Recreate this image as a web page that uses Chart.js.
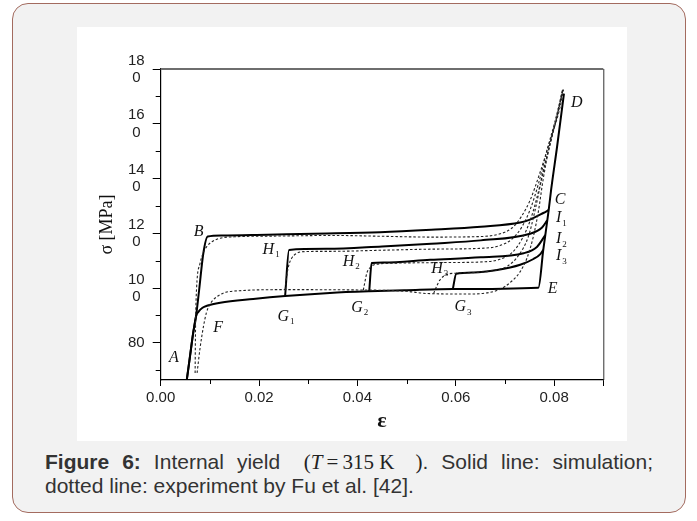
<!DOCTYPE html>
<html>
<head>
<meta charset="utf-8">
<script src="https://cdn.jsdelivr.net/npm/chart.js@4/dist/chart.umd.min.js"></script>
<style>
  html, body { margin: 0; padding: 0; background: #ffffff; }
  body { width: 697px; height: 521px; position: relative; overflow: hidden; }
  #box {
    position: absolute; left: 12px; top: 3px; width: 672px; height: 508px;
    background: #f2f2f2; border: 1.5px solid #a36b5f; border-radius: 16px;
  }
  #panel { position: absolute; left: 77px; top: 27px; width: 550px; height: 414px; background: #ffffff; }
  #caption {
    position: absolute; left: 45px; top: 450px; width: 608px;
    font-family: "Liberation Sans", Arial, sans-serif; font-size: 21px; line-height: 24px; color: #333;
  }
  #caption .l1 { text-align: justify; text-align-last: justify; white-space: nowrap; }
  #caption b { font-weight: bold; }
  #caption .m { display: inline-block; font-family: "Liberation Serif", "Times New Roman", serif; font-size: 21px; color: #222; }
</style>
</head>
<body>
<div id="box"></div>
<div id="panel"><canvas id="c"></canvas></div>
<div id="caption">
  <div class="l1"><b>Figure 6:</b> Internal yield <span class="m">&nbsp;&nbsp;(<i>T</i>&thinsp;=&thinsp;315&nbsp;K&nbsp;&nbsp;&nbsp;&nbsp;)</span>. Solid line: simulation;</div>
  <div>dotted line: experiment by Fu et al. [42].</div>
</div>
<script>
// Strain (ε) / stress (σ, MPa) pairs.
// Simulation, solid lines
const simMain = [[0.0053,66.4],[0.0060,75.5],[0.0066,83.5],[0.00718,89.6],[0.0078,99],[0.00867,112.7],[0.00956,118.8],[0.0124,119.2],[0.0216,119.5],[0.0338,119.9],[0.0446,120.4],[0.0550,121.3],[0.0651,122.4],[0.0731,123.9],[0.0751,125.0],[0.0778,127.4],[0.0789,128.5]];
const simLower = [[0.0053,66.4],[0.00718,89.6],[0.0077,91.4],[0.0085,92.8],[0.0094,93.5],[0.0121,94.6],[0.0188,96.0],[0.0253,97.1],[0.0344,98.2],[0.0424,98.8],[0.0500,99.2],[0.0594,99.6],[0.0768,100.1],[0.0778,114],[0.0789,128.5],[0.0794,136],[0.0806,151.6],[0.0820,171]];
const simH1 = [[0.0253,97.1],[0.0261,113.9],[0.0338,114.3],[0.0450,115.2],[0.0550,116.2],[0.0651,117.4],[0.0751,119.8],[0.0775,122.0],[0.0786,124.7]];
const simH2 = [[0.0424,98.8],[0.0429,109.1],[0.0453,109.3],[0.0548,110.3],[0.0651,111.2],[0.0738,112.7],[0.0765,115.0],[0.0782,119.3]];
const simH3 = [[0.0594,99.6],[0.0601,105.2],[0.0636,105.7],[0.0684,106.6],[0.0731,108.5],[0.0758,110.6],[0.0772,112.4],[0.0778,114]];

// Experiment (Fu et al.), dotted lines
const expMain = [[0.0070,69],[0.00705,80],[0.0071,88],[0.0073,100],[0.0080,109],[0.0087,113],[0.0094,115.2],[0.0105,117],[0.0121,118.2],[0.0150,118.7],[0.0250,119.0],[0.0350,119.2],[0.0450,118.9],[0.0550,118.6],[0.0650,118.8],[0.0690,119.8],[0.0715,122],[0.0733,126],[0.0751,132],[0.0771,142],[0.0792,154],[0.0812,166],[0.0819,172.5]];
const expLower = [[0.0074,69],[0.0080,78],[0.0087,86],[0.0093,91],[0.0100,94],[0.0107,95.7],[0.0127,98.1],[0.0160,99.0],[0.0250,99.4],[0.0400,99.3],[0.0500,98.8],[0.0540,98.0],[0.0620,97.8],[0.0684,99.1],[0.0717,103],[0.0731,106],[0.0745,111],[0.0758,119],[0.0768,128],[0.0778,140],[0.0792,153],[0.0805,162],[0.0818,172.5]];
const expH1 = [[0.0253,99.4],[0.0256,104],[0.0260,108],[0.0266,110.8],[0.0276,112.6],[0.0292,113.3],[0.0350,113.4],[0.0450,113.8],[0.0550,114.2],[0.0650,114.5],[0.0690,115.5],[0.0715,118],[0.0735,122.5],[0.0752,129],[0.0768,138],[0.0785,150],[0.0802,161],[0.0818,172.5]];
const expH2 = [[0.0412,99.2],[0.0415,102],[0.0419,105.4],[0.0428,107.8],[0.0439,108.7],[0.0480,109.1],[0.0580,109.3],[0.0660,109.6],[0.0690,110.5],[0.0715,113],[0.0735,118],[0.0752,125],[0.0765,133],[0.0781,145],[0.0798,157],[0.0817,172.5]];
const expH3 = [[0.0555,98.0],[0.0562,101],[0.0568,103],[0.0582,105],[0.0599,105.4],[0.0630,105.6],[0.0670,106.2],[0.0705,108],[0.0728,112],[0.0748,119],[0.0762,129],[0.0776,141],[0.0792,153],[0.0808,164],[0.0818,172.5]];

// Point letters: [letter, subscript, ε, σ]
const letterMarks = [
  ['A','',0.0027,74.4], ['B','',0.0077,120.6], ['C','',0.0812,132.4], ['D','',0.0846,167.5],
  ['E','',0.0797,99.6], ['F','',0.0117,85.4],
  ['G','1',0.0249,89.6], ['G','2',0.0399,92.7], ['G','3',0.0609,93.0],
  ['H','1',0.0219,113.9], ['H','2',0.0382,109.7], ['H','3',0.0562,106.9],
  ['I','1',0.0809,125.5], ['I','2',0.0809,117.8], ['I','3',0.0809,111.6]
];

// Axis settings
const xRange = [0, 0.09];
const yRange = [66.4, 180];
const xStep = 0.01;
const yStep = 10;

const pts = arr => arr.map(([x, y]) => ({ x, y }));
const solid = (data) => ({ data: pts(data), borderColor: '#000', borderWidth: 2, pointRadius: 0, cubicInterpolationMode: 'monotone', fill: false });
const dotted = (data) => ({ data: pts(data), borderColor: '#222', borderWidth: 1.1, borderDash: [2.5, 2], pointRadius: 0, cubicInterpolationMode: 'monotone', fill: false });

// Frame on top/right, short minor ticks and the point letters
const decor = {
  id: 'decor',
  afterDraw(chart) {
    const { ctx, chartArea: a, scales: { x, y } } = chart;
    ctx.save();
    ctx.strokeStyle = '#6e6e6e'; ctx.lineWidth = 2;
    ctx.beginPath(); ctx.moveTo(a.left, a.top); ctx.lineTo(a.right, a.top); ctx.stroke();
    ctx.strokeStyle = '#333'; ctx.lineWidth = 1;
    ctx.beginPath(); ctx.moveTo(a.right + 0.5, a.top); ctx.lineTo(a.right + 0.5, a.bottom); ctx.stroke();
    // minor ticks
    ctx.strokeStyle = '#000'; ctx.lineWidth = 1;
    x.ticks.forEach((t, i) => {
      if (i % 2 === 1 && i !== x.ticks.length - 1) {
        const px = Math.round(x.getPixelForValue(t.value)) + 0.5;
        ctx.beginPath(); ctx.moveTo(px, a.bottom); ctx.lineTo(px, a.bottom + 4); ctx.stroke();
      }
    });
    y.ticks.forEach(t => {
      if (Math.round(t.value) % 20 !== 0) {
        const py = Math.round(y.getPixelForValue(t.value)) + 0.5;
        ctx.beginPath(); ctx.moveTo(a.left - 5, py); ctx.lineTo(a.left, py); ctx.stroke();
      }
    });
    // letters
    ctx.fillStyle = '#111';
    ctx.textBaseline = 'middle';
    letterMarks.forEach(([l, s, vx, vy]) => {
      const px = x.getPixelForValue(vx), py = y.getPixelForValue(vy);
      ctx.font = 'italic 16px "Liberation Serif", "Times New Roman", serif';
      ctx.textAlign = 'center';
      ctx.fillText(l, px, py);
      if (s) {
        const w = ctx.measureText(l).width;
        ctx.font = '9px "Liberation Serif", "Times New Roman", serif';
        ctx.textAlign = 'left';
        ctx.fillText(s, px + w / 2 + 1, py + 5);
      }
    });
    ctx.restore();
  }
};

new Chart(document.getElementById('c'), {
  type: 'line',
  data: {
    datasets: [
      dotted(expMain), dotted(expLower), dotted(expH1), dotted(expH2), dotted(expH3),
      solid(simMain), solid(simLower), solid(simH1), solid(simH2), solid(simH3)
    ]
  },
  options: {
    responsive: true,
    maintainAspectRatio: false,
    animation: false,
    devicePixelRatio: 1,
    layout: { padding: { left: 0, top: 42, right: 23.7, bottom: 0 } },
    plugins: { legend: { display: false }, tooltip: { enabled: false } },
    scales: {
      x: {
        type: 'linear', min: xRange[0], max: xRange[1],
        afterFit(s) { s.height = 61; },
        border: { color: '#000', width: 1.2 },
        grid: { drawOnChartArea: false, drawTicks: true, tickLength: 6,
          tickColor: (c) => (c.index % 2 === 0 || c.index === 9) ? '#000' : 'rgba(0,0,0,0)' },
        ticks: {
          stepSize: xStep, autoSkip: false, maxRotation: 0, padding: 3, color: '#222',
          font: { family: '"Liberation Sans", Arial, sans-serif', size: 15 },
          callback: (v, i) => (i % 2 === 0 && i < 9) ? Number(v).toFixed(2) : ''
        },
        title: { display: true, text: 'ε', color: '#111',
          font: { family: '"Liberation Serif", "Times New Roman", serif', size: 22, weight: 'bold' },
          padding: { top: 0, bottom: 6 } }
      },
      y: {
        type: 'linear', min: yRange[0], max: yRange[1],
        afterFit(s) { s.width = 83.7; },
        border: { color: '#000', width: 1.2 },
        grid: { drawOnChartArea: false, drawTicks: true, tickLength: 8,
          tickColor: (c) => (Math.round(c.tick.value) % 20 === 0) ? '#000' : 'rgba(0,0,0,0)' },
        ticks: {
          stepSize: yStep, includeBounds: false, autoSkip: false, padding: 8, color: '#222',
          font: { family: '"Liberation Sans", Arial, sans-serif', size: 15, lineHeight: 1.15 },
          callback: (v) => {
            const n = Math.round(v);
            if (n % 20 !== 0) return '';
            const s = String(n);
            return s.length > 2 ? [s.slice(0, 2), s.slice(2) + ' '] : s;
          }
        },
        title: { display: true, text: 'σ [MPa]', color: '#111',
          font: { family: '"Liberation Serif", "Times New Roman", serif', size: 18 },
          padding: { top: 19, bottom: 0 } }
      }
    }
  },
  plugins: [decor]
});
</script>
</body>
</html>
